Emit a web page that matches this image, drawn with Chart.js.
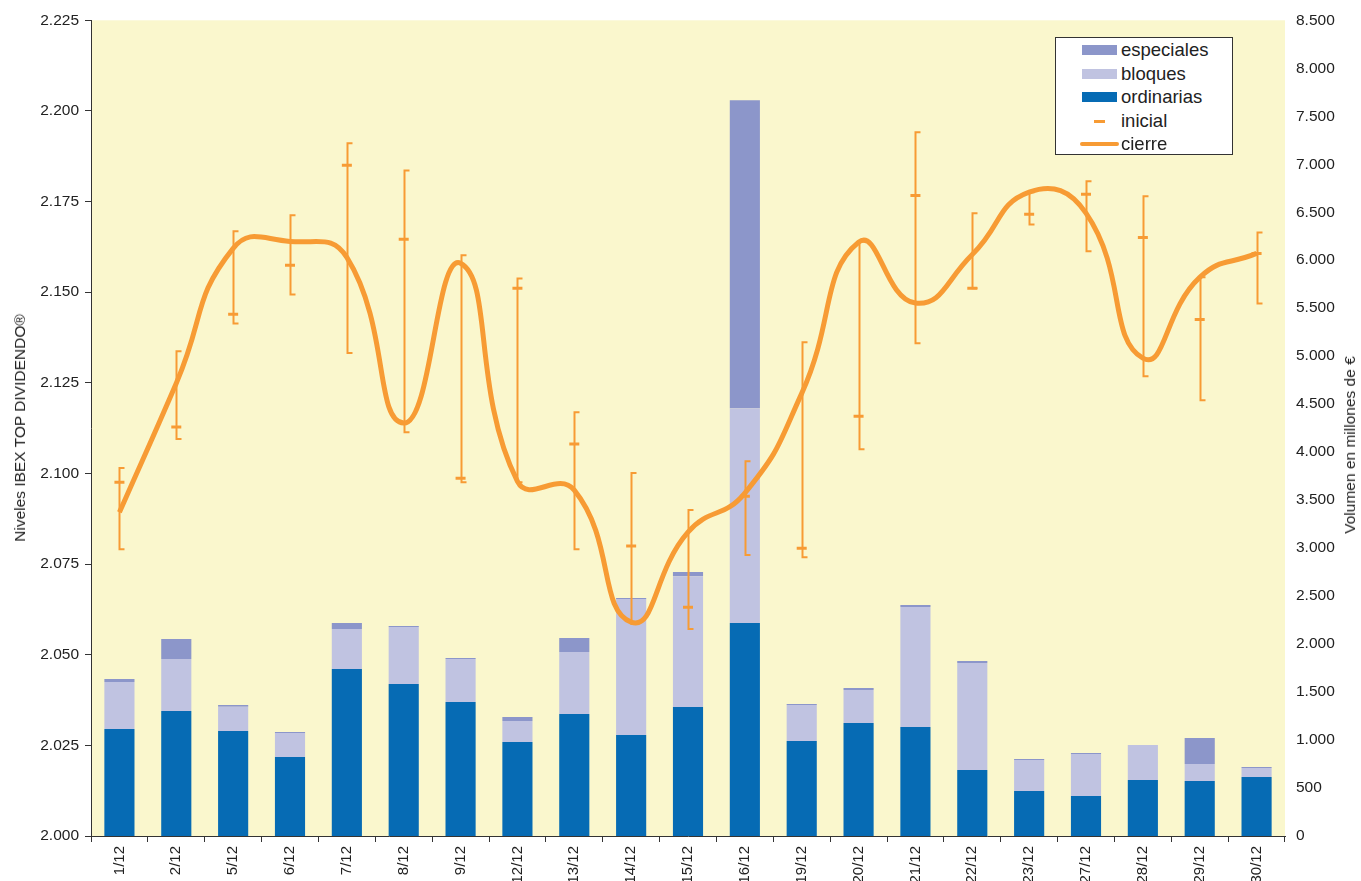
<!DOCTYPE html>
<html>
<head>
<meta charset="utf-8">
<script src="https://cdn.jsdelivr.net/npm/chart.js@4"></script>
<style>
  body { margin: 0; background: #fff; }
  #wrap { position: relative; width: 1361px; height: 881px; font-family: "Liberation Sans", Arial, sans-serif; color: #222; }
  .ytitle { position: absolute; white-space: nowrap; font-size: 15.5px; transform: translate(-50%, -50%) rotate(-90deg); }
  #legend { position: absolute; left: 1055px; top: 37px; width: 176px; height: 116px; background: #fff; border: 1px solid #333; }
  .row { position: absolute; left: 0; height: 24px; font-size: 18.5px; line-height: 24px; }
  .row span.txt { position: absolute; left: 65px; }
  .sw { position: absolute; }
</style>
</head>
<body>
<div id="wrap">
  <canvas id="myChart" width="1361" height="881"></canvas>
  <div class="ytitle" style="left:20px; top:428px;">Niveles IBEX TOP DIVIDENDO®</div>
  <div class="ytitle" style="left:1350px; top:445px;">Volumen en millones de €</div>
  <div id="legend"></div>
</div>
<script>
// sesiones de diciembre
const dias = ["1/12", "2/12", "5/12", "6/12", "7/12", "8/12", "9/12", "12/12", "13/12", "14/12", "15/12",
  "16/12", "19/12", "20/12", "21/12", "22/12", "23/12", "27/12", "28/12", "29/12", "30/12"];

// volumen en millones de euros
const ordinarias = [1115, 1302, 1094, 823, 1740, 1583, 1396, 979, 1271, 1052, 1344, 2219, 990, 1177, 1135, 688, 469, 417, 583, 573, 615];
const bloques = [490, 542, 253, 250, 416, 594, 448, 219, 646, 1417, 1364, 2239, 375, 344, 1250, 1114, 323, 437, 365, 177, 93];
const especiales = [30, 208, 18, 10, 63, 11, 10, 42, 146, 10, 42, 3209, 10, 21, 21, 21, 10, 11, 0, 271, 11];

// niveles del indice
const inicial = [2.0976, 2.1128, 2.1439, 2.1574, 2.1850, 2.1646, 2.0987, 2.1511, 2.1081, 2.0800, 2.0631,
  2.0937, 2.0794, 2.1158, 2.1767, 2.1511, 2.1715, 2.1770, 2.1651, 2.1425, 2.1607];
const cierre = [2.0893, 2.1249, 2.1621, 2.1640, 2.1596, 2.1139, 2.1580, 2.0978, 2.0954, 2.0590, 2.0838,
  2.0946, 2.1221, 2.1638, 2.1470, 2.1604, 2.1776, 2.1718, 2.1318, 2.1541, 2.1607];
const maximo = [2.1015, 2.1337, 2.1668, 2.1712, 2.1911, 2.1836, 2.1602, 2.1538, 2.1169, 2.1001, 2.0899,
  2.1034, 2.1362, 2.1640, 2.1941, 2.1718, 2.1776, 2.1806, 2.1765, 2.1541, 2.1665];
const minimo = [2.0791, 2.1095, 2.1414, 2.1494, 2.1332, 2.1114, 2.0976, 2.0976, 2.0791, 2.0585, 2.0571,
  2.0775, 2.0769, 2.1067, 2.1359, 2.1511, 2.1687, 2.1613, 2.1268, 2.1202, 2.1469];

const NARANJA = "#F79B34";
const FONT = "'Liberation Sans', Arial, sans-serif";

// fondo amarillo del area de trazado
const fondo = {
  id: "fondo",
  beforeDraw(chart) {
    const a = chart.chartArea, ctx = chart.ctx;
    ctx.save();
    ctx.fillStyle = "#FAF7CD";
    ctx.fillRect(a.left, a.top, a.right - a.left, a.bottom - a.top);
    ctx.restore();
  }
};

// lineas maximo-minimo, justo antes de pintar "inicial"
const rango = {
  id: "rango",
  beforeDatasetDraw(chart, args) {
    if (args.meta.label !== "inicial") return;
    const ctx = chart.ctx, x = chart.scales.x, y = chart.scales.y;
    ctx.save();
    ctx.strokeStyle = NARANJA;
    ctx.lineWidth = 2;
    dias.forEach((d, i) => {
      const px = Math.round(x.getPixelForValue(i)) + 0.5;
      const hi = y.getPixelForValue(maximo[i]);
      const lo = y.getPixelForValue(minimo[i]);
      ctx.beginPath();
      ctx.moveTo(px + 5, hi);
      ctx.lineTo(px, hi);
      ctx.lineTo(px, lo);
      ctx.lineTo(px + 5, lo);
      ctx.stroke();
    });
    ctx.restore();
  }
};

function miles(v) {
  return String(Math.round(v)).replace(/\B(?=(\d{3})+(?!\d))/g, ".");
}

const ctx = document.getElementById("myChart").getContext("2d");
const chart = new Chart(ctx, {
  type: "bar",
  data: {
    labels: dias,
    datasets: [
      { label: "cierre", type: "line", data: cierre, yAxisID: "y", order: 0,
        borderColor: NARANJA, borderWidth: 5, tension: 0.5, pointRadius: 0, fill: false },
      { label: "inicial", type: "line", data: inicial, yAxisID: "y", order: 1, showLine: false,
        pointStyle: "line", pointRadius: 5, borderColor: NARANJA, pointBorderWidth: 3, backgroundColor: NARANJA },
      { label: "ordinarias", data: ordinarias, yAxisID: "y2", stack: "vol", order: 2, backgroundColor: "#066BB4" },
      { label: "bloques", data: bloques, yAxisID: "y2", stack: "vol", order: 3, backgroundColor: "#C0C3E1" },
      { label: "especiales", data: especiales, yAxisID: "y2", stack: "vol", order: 4, backgroundColor: "#8C96CA" }
    ]
  },
  options: {
    responsive: false,
    animation: false,
    devicePixelRatio: 1,
    layout: { padding: { top: 20, left: 0, right: 0, bottom: 0 } },
    datasets: { bar: { categoryPercentage: 1, barPercentage: 0.53 } },
    plugins: { legend: { display: false }, tooltip: { enabled: false } },
    scales: {
      x: {
        stacked: true,
        offset: true,
        grid: { offset: true, drawOnChartArea: false, drawTicks: true, tickLength: 6, color: "#333" },
        border: { color: "#333", width: 1 },
        ticks: { autoSkip: false, minRotation: 90, maxRotation: 90, padding: 4, color: "#222", font: { family: FONT, size: 15 } },
        afterFit(s) { s.height = 45; }
      },
      y: {
        position: "left",
        min: 2.0, max: 2.225,
        grid: { drawOnChartArea: false, drawTicks: true, tickLength: 6, color: "#333" },
        border: { color: "#333", width: 1 },
        ticks: { stepSize: 0.025, padding: 6, color: "#222", font: { family: FONT, size: 15.5 },
          callback: v => v.toFixed(3).replace(/^(\d)\./, "$1.") },
        afterFit(s) { s.width = 91; }
      },
      y2: {
        position: "right",
        stacked: true,
        min: 0, max: 8500,
        grid: { display: false, drawTicks: false },
        border: { display: false },
        ticks: { stepSize: 500, padding: 11, color: "#222", font: { family: FONT, size: 15.5 }, callback: v => miles(v) },
        afterFit(s) { s.width = 76; }
      }
    }
  },
  plugins: [fondo, rango]
});

// leyenda dentro del area de trazado
const items = [
  { t: "especiales", k: "rect", c: "#8C96CA" },
  { t: "bloques", k: "rect", c: "#C0C3E1" },
  { t: "ordinarias", k: "rect", c: "#066BB4" },
  { t: "inicial", k: "dash", c: NARANJA },
  { t: "cierre", k: "line", c: NARANJA }
];
const leg = document.getElementById("legend");
items.forEach((it, i) => {
  const row = document.createElement("div");
  row.className = "row";
  row.style.top = (i * 23.5 + 0) + "px";
  row.style.width = "176px";
  const sw = document.createElement("div");
  sw.className = "sw";
  sw.style.background = it.c;
  if (it.k === "rect") { sw.style.left = "26px"; sw.style.top = "7px"; sw.style.width = "35px"; sw.style.height = "10px"; }
  if (it.k === "dash") { sw.style.left = "38px"; sw.style.top = "11px"; sw.style.width = "11px"; sw.style.height = "3px"; }
  if (it.k === "line") { sw.style.left = "24px"; sw.style.top = "10px"; sw.style.width = "39px"; sw.style.height = "4px"; sw.style.borderRadius = "2px"; }
  const tx = document.createElement("span");
  tx.className = "txt";
  tx.textContent = it.t;
  row.appendChild(sw);
  row.appendChild(tx);
  leg.appendChild(row);
});
</script>
</body>
</html>
